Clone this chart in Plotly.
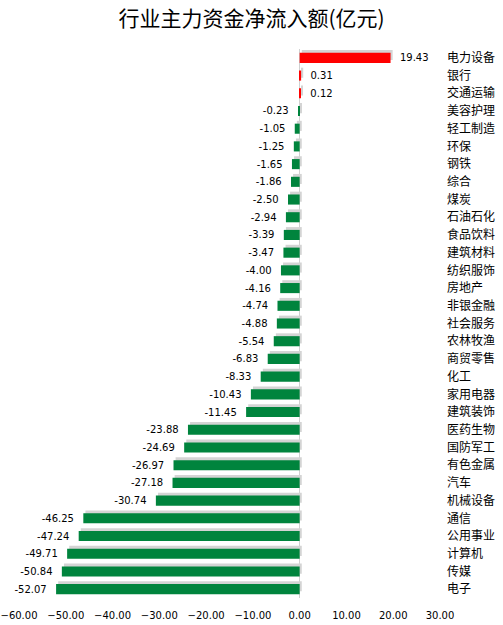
import plotly.graph_objects as go

categories = ["电力设备", "银行", "交通运输", "美容护理", "轻工制造", "环保", "钢铁", "综合",
              "煤炭", "石油石化", "食品饮料", "建筑材料", "纺织服饰", "房地产", "非银金融",
              "社会服务", "农林牧渔", "商贸零售", "化工", "家用电器", "建筑装饰", "医药生物",
              "国防军工", "有色金属", "汽车", "机械设备", "通信", "公用事业", "计算机", "传媒", "电子"]
values = [19.43, 0.31, 0.12, -0.23, -1.05, -1.25, -1.65, -1.86, -2.50, -2.94, -3.39, -3.47,
          -4.00, -4.16, -4.74, -4.88, -5.54, -6.83, -8.33, -10.43, -11.45, -23.88, -24.69,
          -26.97, -27.18, -30.74, -46.25, -47.24, -49.71, -50.84, -52.07]
tick_values = [-60, -50, -40, -30, -20, -10, 0, 10, 20, 30]

colors = ["#FF0000" if v > 0 else "#00843D" for v in values]
labels = [("  %.2f" % v) if v > 0 else ("%.2f  " % v) for v in values]

bar_w = 0.57
shadow = go.Bar(
    x=values, y=categories, orientation="h", base=0.45,
    marker=dict(color="#D4D4D4", line=dict(width=0)),
    width=bar_w, offset=-bar_w / 2 - 0.16, hoverinfo="skip",
)
main = go.Bar(
    x=values, y=categories, orientation="h",
    marker=dict(color=colors, line=dict(width=0)),
    text=labels, textposition="outside", cliponaxis=False, constraintext="none",
    textfont=dict(family="DejaVu Sans", size=10, color="#000000"),
    width=bar_w, offset=-bar_w / 2,
)
fig = go.Figure([shadow, main])

fig.update_layout(
    width=503, height=625, barmode="overlay",
    margin=dict(l=19, r=63, t=49, b=27, autoexpand=False),
    paper_bgcolor="white", plot_bgcolor="white",
    title=dict(text="行业主力资金净流入额(亿元)", x=0.5, xanchor="center", y=0.97, yanchor="middle",
               font=dict(family="Noto Sans CJK SC", size=21, color="#000000")),
    showlegend=False,
    xaxis=dict(range=[-60, 30], tickvals=tick_values, tickformat=".2f", automargin=False,
               showgrid=False, zeroline=True, zerolinecolor="#D0D0D0", zerolinewidth=1,
               showline=False, ticks="", ticklabelstandoff=10, ticklabeloverflow="allow",
               tickfont=dict(family="DejaVu Sans", size=10, color="#000000")),
    yaxis=dict(categoryorder="array", categoryarray=categories, autorange="reversed",
               automargin=False,
               side="right", showgrid=False, zeroline=False, showline=False, ticks="",
               ticklabelstandoff=6, ticklabeloverflow="allow",
               tickfont=dict(family="Noto Sans CJK SC", size=12, color="#000000")),
)

fig.write_html("out.html", config={"displayModeBar": False},
               post_script="document.body.style.margin='0px';")
